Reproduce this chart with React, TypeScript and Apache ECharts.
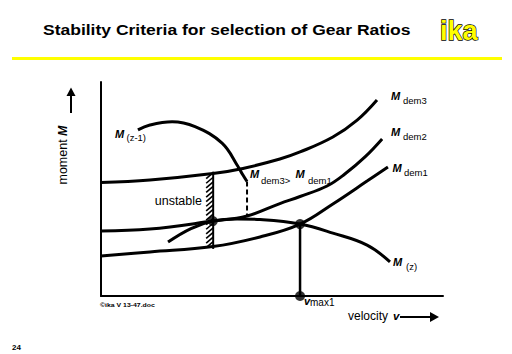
import React, { useEffect, useRef } from 'react';
import * as echarts from 'echarts';

// Diagram values on a normalised 0..100 velocity / moment scale
const mDem3 = [[0, 53.0], [14.3, 54.2], [32.7, 57.2], [41.5, 59.6], [52.3, 64.0], [58.2, 67.3], [67.8, 74.3], [74.9, 82.2], [80.7, 91.6]];
const mDem2 = [[0, 30.4], [14.3, 31.3], [32.7, 35.0], [42.7, 37.4], [52.3, 43.2], [58.2, 46.5], [66.1, 51.4], [71.3, 57.0], [77.2, 65.0], [82.2, 73.4]];
const mDem1 = [[0, 18.7], [14.3, 20.6], [32.7, 23.1], [46.5, 27.6], [58.2, 33.6], [67.8, 43.0], [77.8, 53.7], [83.9, 60.3]];
const mZ = [[19.6, 25.2], [26.3, 31.5], [32.7, 35.0], [39.8, 36.0], [46.5, 35.7], [58.2, 33.6], [67.8, 29.4], [77.8, 23.8], [84.5, 15.9]];
const mZ1 = [[10.8, 77.6], [14.3, 79.9], [20.8, 81.4], [27.5, 79.1], [35.4, 71.4], [40.1, 60.4], [41.5, 56.5], [42.7, 53.5]];
const mZ1Drop = [[42.7, 53.5], [42.7, 37.4]];
const vmaxLine = [[58.2, 33.6], [58.2, 0]];
const points = [[32.7, 35.0], [58.2, 33.6], [58.2, 0]];
const hatch = [[32.8, 22.0, 58.1]];

const TITLE = 'Stability Criteria for selection of Gear Ratios';
const FF = '"Liberation Sans", Arial, Helvetica, sans-serif';

function mLabel(x: number, y: number, sub: string, subDx: number, subDy = 4, subBg = false) {
  return [
    {
      type: 'text', x, y,
      style: { text: 'M', fontSize: 11, fontWeight: 'bold', fontStyle: 'italic', fontFamily: FF, fill: '#000', verticalAlign: 'middle' },
    },
    {
      type: 'text', x: x + subDx, y: y + subDy,
      style: {
        text: sub, fontSize: 9.5, fontFamily: FF, fill: '#000', verticalAlign: 'middle',
        ...(subBg ? { backgroundColor: '#fff', padding: [0, 1, 0, 1] } : {}),
      },
    },
  ];
}

export default function App() {
  const ref = useRef<HTMLDivElement>(null);
  useEffect(() => {
    const chart = echarts.init(ref.current!, null, { renderer: 'svg' });
    const lineS = (data: number[][], width = 3, extra: any = {}) => ({
      type: 'line', data, smooth: 0.4, symbol: 'none', silent: true,
      lineStyle: { color: '#000', width, ...extra }, z: 2,
    });
    const option: any = {
      animation: false,
      backgroundColor: '#fff',
      grid: { left: 101, top: 82, width: 342, height: 214 },
      xAxis: {
        type: 'value', min: 0, max: 100,
        axisLine: { show: true, onZero: false, lineStyle: { color: '#000', width: 2 } },
        axisTick: { show: false }, axisLabel: { show: false }, splitLine: { show: false },
      },
      yAxis: {
        type: 'value', min: 0, max: 100,
        axisLine: { show: true, onZero: false, lineStyle: { color: '#000', width: 2 } },
        axisTick: { show: false }, axisLabel: { show: false }, splitLine: { show: false },
      },
      series: [
        lineS(mDem3),
        lineS(mDem2),
        lineS(mDem1),
        lineS(mZ),
        lineS(mZ1),
        { ...lineS(mZ1Drop, 2, { type: [5, 3] }), smooth: false },
        { ...lineS(vmaxLine, 2.5), smooth: false },
        {
          type: 'custom', silent: true, z: 3,
          encode: { x: 0, y: [1, 2] },
          data: hatch,
          renderItem: (params: any, api: any) => {
            const top = api.coord([api.value(0), api.value(2)]);
            const bot = api.coord([api.value(0), api.value(1)]);
            const children: any[] = [{
              type: 'line',
              shape: { x1: top[0], y1: top[1], x2: bot[0], y2: bot[1] },
              style: { stroke: '#000', lineWidth: 2 },
            }];
            for (let y = top[1] + 1; y < bot[1] - 5; y += 4.6) {
              children.push({
                type: 'line',
                shape: { x1: top[0] - 7, y1: y + 6, x2: top[0], y2: y },
                style: { stroke: '#000', lineWidth: 1.6 },
              });
            }
            return { type: 'group', children };
          },
        },
        {
          type: 'scatter', data: points, symbolSize: 10, silent: true, z: 4,
          itemStyle: { color: '#000' },
        },
      ],
      graphic: [
        {
          type: 'text', x: 43, y: 29.5, scaleX: 1.13,
          style: { text: TITLE, fontSize: 15.5, fontWeight: 'bold', fontFamily: FF, fill: '#000', verticalAlign: 'middle' },
        },
        {
          type: 'text', x: 440, y: 31,
          style: { text: 'ika', fontSize: 27, fontWeight: 'bold', fontFamily: FF, fill: '#ffff00', stroke: '#000', lineWidth: 1.3, verticalAlign: 'middle' },
        },
        { type: 'rect', shape: { x: 12, y: 57, width: 490, height: 3 }, style: { fill: '#ffff00' } },
        // y-axis title and arrow
        {
          type: 'text', x: 63, y: 155, rotation: Math.PI / 2,
          style: {
            text: '{a|moment }{b|M}', align: 'center', verticalAlign: 'middle', fill: '#000',
            rich: {
              a: { fontSize: 12.5, fontFamily: FF, fill: '#000' },
              b: { fontSize: 12.5, fontFamily: FF, fontWeight: 'bold', fontStyle: 'italic', fill: '#000' },
            },
          },
        },
        { type: 'line', shape: { x1: 71, y1: 113, x2: 71, y2: 95 }, style: { stroke: '#000', lineWidth: 2 } },
        { type: 'polygon', shape: { points: [[66.5, 96], [71, 87.5], [75.5, 96]] }, style: { fill: '#000' } },
        // x-axis title and arrow
        {
          type: 'text', x: 348, y: 316,
          style: { text: 'velocity', fontSize: 12, fontFamily: FF, fill: '#000', verticalAlign: 'middle' },
        },
        {
          type: 'text', x: 393, y: 316,
          style: { text: 'v', fontSize: 11.5, fontWeight: 'bold', fontStyle: 'italic', fontFamily: FF, fill: '#000', verticalAlign: 'middle' },
        },
        { type: 'line', shape: { x1: 400, y1: 317, x2: 432, y2: 317 }, style: { stroke: '#000', lineWidth: 2 } },
        { type: 'polygon', shape: { points: [[430, 312], [439, 317], [430, 322]] }, style: { fill: '#000' } },
        // v max1
        {
          type: 'text', x: 304, y: 300.5,
          style: { text: 'v', fontSize: 11, fontWeight: 'bold', fontStyle: 'italic', fontFamily: FF, fill: '#000', verticalAlign: 'middle' },
        },
        {
          type: 'text', x: 310, y: 302,
          style: { text: 'max1', fontSize: 10, fontFamily: FF, fill: '#000', verticalAlign: 'middle' },
        },
        // curve labels
        ...mLabel(115, 133.5, '(z-1)', 11.5, 3.5),
        ...mLabel(391, 96, 'dem3', 12, 4),
        ...mLabel(391, 132, 'dem2', 12, 4),
        ...mLabel(392.5, 167.5, 'dem1', 11.5, 4.5),
        ...mLabel(393, 262, '(z)', 13, 4),
        ...mLabel(250, 173.5, 'dem3>', 11, 6.5),
        ...mLabel(295.5, 173.5, 'dem1', 11.5, 6.5, true),
        {
          type: 'text', x: 202, y: 201,
          style: { text: 'unstable', fontSize: 12.5, fontFamily: FF, fill: '#000', align: 'right', verticalAlign: 'middle' },
        },
        // footer
        {
          type: 'text', x: 100, y: 305, scaleX: 1.15,
          style: { text: '©ika V 13-47.doc', fontSize: 6, fontWeight: 'bold', fontFamily: FF, fill: '#000', verticalAlign: 'middle' },
        },
        {
          type: 'text', x: 12, y: 347,
          style: { text: '24', fontSize: 8, fontWeight: 'bold', fontFamily: FF, fill: '#000', verticalAlign: 'middle' },
        },
      ],
    };
    chart.setOption(option);
    return () => chart.dispose();
  }, []);
  return (
    <div
      ref={ref}
      style={{ position: 'absolute', left: 0, top: 0, width: 512, height: 354, background: '#fff' }}
    />
  );
}
